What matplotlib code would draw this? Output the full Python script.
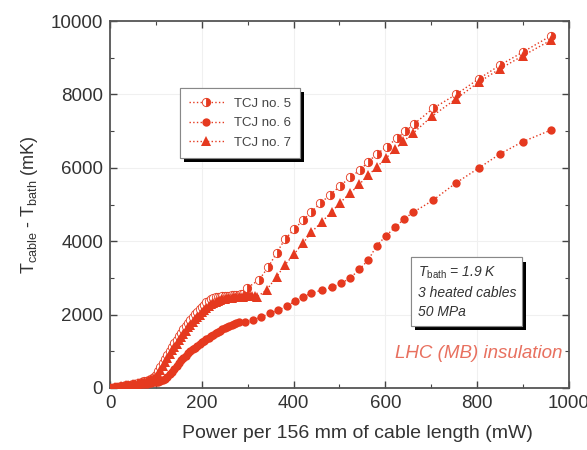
import matplotlib
matplotlib.use('Agg')
import matplotlib.pyplot as plt
import matplotlib.patheffects as pe
from matplotlib.ticker import MultipleLocator

plt.rcParams['font.family'] = ['Liberation Sans', 'DejaVu Sans']
plt.rcParams['mathtext.fontset'] = 'custom'
plt.rcParams['mathtext.rm'] = 'Liberation Sans'
plt.rcParams['mathtext.it'] = 'Liberation Sans:italic'

# TCJ no. 5 : power (mW) / temperature rise (mK)
p5 = [0, 5, 10, 15, 20, 25, 30, 35, 40, 45, 50, 55, 60, 65, 70, 75, 80, 85,
      90, 95, 100, 105, 110, 115, 120, 125, 130, 135, 140, 145, 150, 155,
      160, 165, 170, 175, 180, 185, 190, 195, 200, 205, 210, 215, 220, 225,
      230, 235, 240, 245, 250, 255, 260, 265, 270, 275, 280, 285, 290,
      298, 325, 345, 363, 381, 401, 421, 439, 458, 479, 501, 523, 545, 563,
      582, 603, 625, 643, 663, 704, 754, 803, 850, 899, 961]
t5 = [0, 10, 20, 30, 40, 50, 60, 70, 80, 90, 100, 115, 130, 145, 160, 180,
      200, 225, 250, 290, 350, 450, 560, 680, 800, 910, 1020, 1120, 1220,
      1320, 1420, 1510, 1600, 1690, 1770, 1850, 1930, 2010, 2080, 2140, 2200,
      2270, 2330, 2380, 2420, 2450, 2470, 2480, 2490, 2500, 2510, 2515, 2520,
      2525, 2530, 2535, 2540, 2550, 2560,
      2720, 2950, 3300, 3680, 4050, 4320, 4580, 4800, 5030, 5260, 5500, 5740,
      5940, 6170, 6380, 6580, 6800, 6990, 7200, 7620, 8000, 8420, 8800, 9150,
      9600]

# TCJ no. 6
p6 = [0, 5, 10, 15, 20, 25, 30, 35, 40, 45, 50, 55, 60, 65, 70, 75, 80, 85,
      90, 95, 100, 105, 110, 115, 120, 125, 130, 135, 140, 145, 150, 155,
      160, 165, 170, 175, 180, 185, 190, 195, 200, 205, 210, 215, 220, 225,
      230, 235, 240, 245, 250, 255, 260, 265, 270, 275, 280,
      294, 312, 330, 349, 367, 385, 402, 420, 439, 461, 483, 503, 523, 543,
      563, 581, 601, 621, 641, 661, 703, 753, 803, 850, 899, 961]
t6 = [0, 8, 15, 22, 30, 38, 45, 52, 60, 68, 75, 82, 90, 98, 105, 112, 120,
      130, 140, 150, 160, 175, 190, 215, 250, 300, 370, 440, 520, 600, 680,
      750, 820, 880, 940, 995, 1050, 1100, 1150, 1195, 1240, 1285, 1330, 1370,
      1410, 1450, 1490, 1525, 1560, 1595, 1630, 1660, 1690, 1715, 1740, 1765,
      1790,
      1810, 1850, 1940, 2030, 2120, 2230, 2360, 2490, 2580, 2670, 2740, 2850,
      2990, 3230, 3490, 3880, 4140, 4380, 4610, 4790, 5110, 5580, 5990, 6380,
      6710, 7030]

# TCJ no. 7
p7 = [0, 5, 10, 15, 20, 25, 30, 35, 40, 45, 50, 55, 60, 65, 70, 75, 80, 85,
      90, 95, 100, 105, 110, 115, 120, 125, 130, 135, 140, 145, 150, 155,
      160, 165, 170, 175, 180, 185, 190, 195, 200, 205, 210, 215, 220, 225,
      230, 235, 240, 245, 250, 255, 260, 265, 270, 275, 280, 285, 290, 295,
      300, 305, 310, 315, 320,
      341, 363, 381, 401, 421, 439, 461, 483, 501, 523, 543, 563, 582, 601,
      621, 639, 661, 701, 754, 803, 850, 899, 961]
t7 = [0, 10, 20, 30, 40, 50, 60, 70, 80, 90, 100, 112, 125, 140, 155, 172,
      190, 215, 240, 265, 300, 380, 480, 600, 720, 830, 930, 1030, 1120, 1210,
      1300, 1390, 1480, 1565, 1650, 1725, 1800, 1870, 1940, 2000, 2060, 2120,
      2180, 2230, 2280, 2320, 2350, 2380, 2400, 2415, 2430, 2440, 2450, 2460,
      2470, 2475, 2480, 2485, 2490, 2495, 2500, 2505, 2510, 2500, 2480,
      2670, 3030, 3350, 3650, 3950, 4250, 4520, 4800, 5050, 5300, 5550, 5800,
      6030, 6260, 6500, 6720, 6950, 7400, 7880, 8330, 8700, 9050, 9480]

red = '#e5391f'

fig = plt.figure(figsize=(5.87, 4.5), dpi=100)
ax = fig.add_axes([0.1874, 0.1378, 0.7819, 0.8155])

ax.plot(p5, t5, linestyle=':', linewidth=1.0, color=red, marker='o',
        markersize=6, fillstyle='right', markerfacecoloralt='white',
        markeredgewidth=0.6, markeredgecolor=red, label='TCJ no. 5', zorder=3)
ax.plot(p6, t6, linestyle=':', linewidth=1.0, color=red, marker='o',
        markersize=6, markeredgewidth=0, label='TCJ no. 6', zorder=3)
ax.plot(p7, t7, linestyle=':', linewidth=1.0, color=red, marker='^',
        markersize=6.5, markeredgewidth=0, label='TCJ no. 7', zorder=3)

ax.set_xlim(0, 1000)
ax.set_ylim(0, 10000)
ax.xaxis.set_major_locator(MultipleLocator(200))
ax.xaxis.set_minor_locator(MultipleLocator(100))
ax.yaxis.set_major_locator(MultipleLocator(2000))
ax.yaxis.set_minor_locator(MultipleLocator(1000))
ax.tick_params(which='both', direction='in', top=True, right=True,
               color='#444444', labelsize=13.5, labelcolor='#333333')
ax.tick_params(which='major', length=5, width=1.0, pad=5)
ax.tick_params(which='minor', length=3, width=0.8)
for s in ax.spines.values():
    s.set_color('#555555')
    s.set_linewidth(1.3)
ax.grid(True, which='major', color='#f0f0f0', linewidth=0.8)
ax.set_axisbelow(True)

ax.set_xlabel('Power per 156 mm of cable length (mW)', fontsize=14,
              color='#333333', labelpad=7)
ax.xaxis.set_label_coords(0.54, -0.1)
ax.set_ylabel(r'T$_{\rm cable}$ - T$_{\rm bath}$ (mK)', fontsize=13,
              color='#333333', labelpad=8)

leg = ax.legend(loc='upper left', bbox_to_anchor=(0.1525, 0.817),
                borderaxespad=0, fontsize=9.5, handlelength=2.6,
                fancybox=False, edgecolor='#888888', framealpha=1,
                labelspacing=0.55, borderpad=0.7)
leg.get_frame().set_linewidth(0.8)
leg.get_frame().set_path_effects([
    pe.withSimplePatchShadow(offset=(3, -3), shadow_rgbFace='black', alpha=1),
    pe.Normal()])
for txt in leg.get_texts():
    txt.set_color('#444444')

info = ax.text(0.67, 0.335, 'T$_{\\rm bath}$ = 1.9 K\n3 heated cables\n50 MPa',
               transform=ax.transAxes, fontsize=10, style='italic',
               color='#333333', va='top', ha='left', linespacing=1.45,
               bbox=dict(boxstyle='square,pad=0.45', facecolor='white',
                         edgecolor='#888888', linewidth=0.8))
info.get_bbox_patch().set_path_effects([
    pe.withSimplePatchShadow(offset=(3, -3), shadow_rgbFace='black', alpha=1),
    pe.Normal()])

ax.text(0.985, 0.095, 'LHC (MB) insulation', transform=ax.transAxes,
        fontsize=13.5, style='italic', color='#e8705f', ha='right', va='center')

fig.savefig('out.png', dpi=100)
